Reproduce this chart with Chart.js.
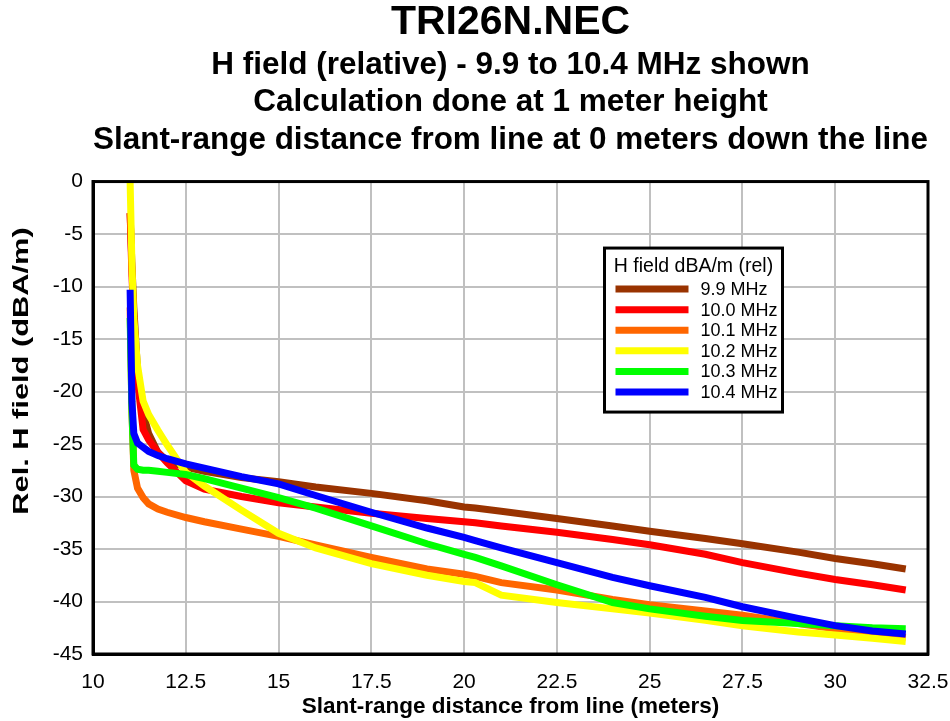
<!DOCTYPE html>
<html>
<head>
<meta charset="utf-8">
<title>TRI26N.NEC</title>
<script src="https://cdn.jsdelivr.net/npm/chart.js@4.4.1/dist/chart.umd.min.js"></script>
<style>
  body { margin: 0; background: #fff; }
  #wrap { width: 950px; height: 721px; }
</style>
</head>
<body>
<div id="wrap"><canvas id="fieldChart" width="950" height="721"></canvas></div>
<script>
const distances = [11.0, 11.05, 11.1, 11.2, 11.35, 11.5, 11.75, 12, 12.5, 13, 14, 15, 16, 17.5, 19, 20, 20.3, 21, 22.5, 24, 25, 26.5, 27.5, 29, 30, 31, 31.9];

const mhz99 = [-3, -8, -12, -18, -22, -24, -25.8, -26.6, -27.2, -27.6, -28.2, -28.6, -29.1, -29.7, -30.4, -31.0, -31.1, -31.4, -32.1, -32.8, -33.3, -34.0, -34.5, -35.3, -35.9, -36.4, -36.9];
const mhz100 = [-3, -9, -13, -19, -23.6, -24.6, -25.8, -26.8, -28.5, -29.3, -30.0, -30.6, -31.0, -31.6, -32.1, -32.4, -32.5, -32.8, -33.4, -34.1, -34.6, -35.5, -36.3, -37.3, -37.9, -38.4, -38.9];
const mhz101 = [-12, -22, -27.5, -29.2, -30.1, -30.7, -31.2, -31.5, -32.0, -32.4, -33.1, -33.8, -34.6, -35.8, -36.9, -37.4, -37.6, -38.2, -38.9, -39.8, -40.3, -40.9, -41.3, -42.1, -42.6, -43.0, -43.4];
const mhz102 = [0, -8, -13, -17.5, -20.9, -22.2, -23.7, -25.1, -27.7, -29.0, -31.3, -33.5, -34.9, -36.4, -37.5, -38.1, -38.2, -39.4, -40.1, -40.7, -41.1, -41.8, -42.3, -42.9, -43.2, -43.5, -43.8];
const mhz103 = [-13, -22, -27.0, -27.4, -27.5, -27.5, -27.6, -27.7, -27.9, -28.3, -29.2, -30.1, -31.1, -32.8, -34.5, -35.5, -35.8, -36.6, -38.4, -40.1, -40.7, -41.4, -41.8, -42.1, -42.3, -42.5, -42.6];
const mhz104 = [-10.3, -21, -24.0, -24.9, -25.3, -25.7, -26.1, -26.4, -26.9, -27.3, -28.1, -28.8, -29.9, -31.5, -33.0, -33.9, -34.2, -34.9, -36.3, -37.7, -38.5, -39.6, -40.5, -41.6, -42.3, -42.8, -43.1];

const seriesLabels = ["9.9 MHz", "10.0 MHz", "10.1 MHz", "10.2 MHz", "10.3 MHz", "10.4 MHz"];
const seriesColors = ["#993300", "#ff0000", "#ff6600", "#ffff00", "#00ff00", "#0000ff"];
const seriesValues = [mhz99, mhz100, mhz101, mhz102, mhz103, mhz104];

const xTicks = [10, 12.5, 15, 17.5, 20, 22.5, 25, 27.5, 30, 32.5];
const yTicks = [0, -5, -10, -15, -20, -25, -30, -35, -40, -45];

const legendTitle = "H field dBA/m (rel)";
const yAxisTitle = "Rel. H field (dBA/m)";
const FONT = "'Liberation Sans', Arial, sans-serif";

// build datasets, last one drawn on top
const datasets = seriesValues.map((vals, i) => ({
  label: seriesLabels[i],
  data: distances.map((d, j) => ({ x: d, y: vals[j] })),
  borderColor: seriesColors[i],
  backgroundColor: seriesColors[i],
  borderWidth: 7,
  pointRadius: 0,
  tension: 0,
  fill: false,
  order: seriesValues.length - i,
}));

const plotFrame = {
  id: "plotFrame",
  afterDatasetsDraw(chart) {
    const { ctx, chartArea: a } = chart;
    ctx.save();
    ctx.strokeStyle = "#000";
    ctx.lineWidth = 3;
    ctx.strokeRect(a.left, a.top, a.right - a.left, a.bottom - a.top);
    ctx.restore();
  },
};

// the y title in the original is drawn stretched along its length
const yTitle = {
  id: "yTitle",
  afterDraw(chart) {
    const { ctx } = chart;
    ctx.save();
    ctx.translate(22, 371);
    ctx.rotate(-Math.PI / 2);
    ctx.scale(1.4, 1);
    ctx.fillStyle = "#000";
    ctx.font = "bold 22px " + FONT;
    ctx.textAlign = "center";
    ctx.textBaseline = "middle";
    ctx.fillText(yAxisTitle, 0, 0);
    ctx.restore();
  },
};

const legendBox = {
  id: "legendBox",
  afterDraw(chart) {
    const { ctx, chartArea } = chart;
    const x = chartArea.left + 511.5;
    const y = chartArea.top + 66.5;
    const w = 178, h = 164;
    ctx.save();
    ctx.fillStyle = "#fff";
    ctx.fillRect(x, y, w, h);
    ctx.lineWidth = 3;
    ctx.strokeStyle = "#000";
    ctx.strokeRect(x, y, w, h);
    ctx.fillStyle = "#000";
    ctx.font = "19.5px " + FONT;
    ctx.textBaseline = "middle";
    ctx.textAlign = "center";
    ctx.fillText(legendTitle, x + w / 2, y + 19);
    ctx.textAlign = "left";
    ctx.font = "18px " + FONT;
    chart.data.datasets.forEach((ds, i) => {
      const ry = y + 41 + i * 20.6;
      ctx.strokeStyle = ds.borderColor;
      ctx.lineWidth = 7;
      ctx.beginPath();
      ctx.moveTo(x + 11, ry);
      ctx.lineTo(x + 84, ry);
      ctx.stroke();
      ctx.fillText(ds.label, x + 96, ry + 1);
    });
    ctx.restore();
  },
};

new Chart(document.getElementById("fieldChart"), {
  type: "line",
  data: { datasets },
  plugins: [plotFrame, yTitle, legendBox],
  options: {
    responsive: false,
    animation: false,
    layout: { padding: { top: 1, right: 22, bottom: 0, left: 0 } },
    plugins: {
      legend: { display: false },
      tooltip: { enabled: false },
      title: {
        display: true,
        fullSize: false,
        text: "TRI26N.NEC",
        color: "#000",
        font: { family: FONT, size: 41, weight: "bold", lineHeight: 1.05 },
        padding: { top: 0, bottom: 0 },
      },
      subtitle: {
        display: true,
        fullSize: false,
        text: [
          "H field (relative) - 9.9 to 10.4 MHz shown",
          "Calculation done at 1 meter height",
          "Slant-range distance from line at 0 meters down the line",
        ],
        color: "#000",
        font: { family: FONT, size: 31.5, weight: "bold", lineHeight: 1.18 },
        padding: { top: 3, bottom: 23 },
      },
    },
    scales: {
      x: {
        type: "linear",
        min: 10,
        max: 32.5,
        afterBuildTicks: (s) => { s.ticks = xTicks.map((v) => ({ value: v })); },
        afterFit: (s) => { s.height = 67; s.paddingRight = 0; s.paddingLeft = 0; },
        grid: { color: "#c0c0c0", lineWidth: 2, drawTicks: false },
        border: { color: "#000", width: 3 },
        ticks: { color: "#000", padding: 16, maxRotation: 0, autoSkip: false, font: { family: FONT, size: 21 } },
        title: {
          display: true,
          text: "Slant-range distance from line (meters)",
          color: "#000",
          font: { family: FONT, size: 22.5, weight: "bold" },
          padding: { top: 0, bottom: 1 },
        },
      },
      y: {
        type: "linear",
        min: -45,
        max: 0,
        afterBuildTicks: (s) => { s.ticks = yTicks.map((v) => ({ value: v })); },
        afterFit: (s) => { s.width = 93; },
        grid: { color: "#c0c0c0", lineWidth: 2, drawTicks: false },
        border: { color: "#000", width: 3 },
        ticks: { color: "#000", padding: 10, autoSkip: false, font: { family: FONT, size: 21 } },
      },
    },
  },
});
</script>
</body>
</html>
